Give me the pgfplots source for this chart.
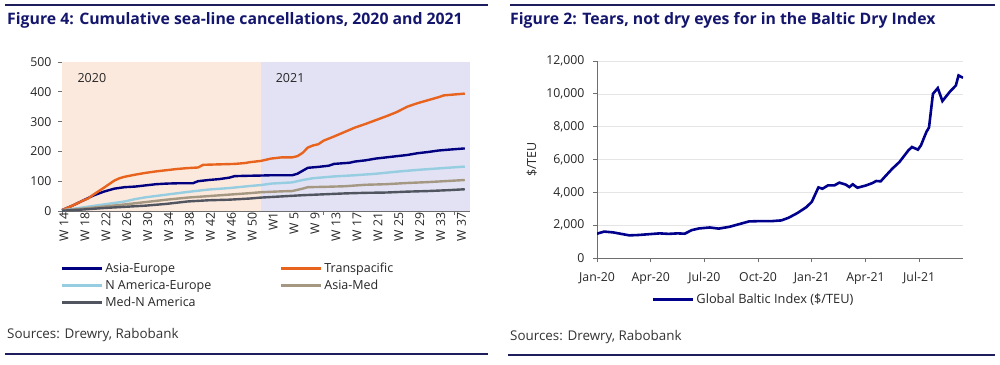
\documentclass[border=0pt]{standalone}
\usepackage{pgfplots}
\pgfplotsset{compat=1.18}
\usepackage{fontspec}
\setmainfont{Open Sans}
\definecolor{titlenavy}{RGB}{20,22,110}
\definecolor{rulenavy}{RGB}{30,30,95}
\definecolor{cAE}{RGB}{0,0,128}
\definecolor{cTP}{RGB}{232,100,30}
\definecolor{cNAE}{RGB}{150,205,225}
\definecolor{cAM}{RGB}{165,152,130}
\definecolor{cMNA}{RGB}{80,85,95}
\definecolor{cBI}{RGB}{0,0,140}
\definecolor{peach}{RGB}{252,233,221}
\definecolor{lav}{RGB}{226,226,244}
\definecolor{axgray}{RGB}{110,110,110}
\begin{document}
\begin{tikzpicture}[x=1pt,y=1pt]
\useasboundingbox (0,0) rectangle (1000,-364);
% rules
\draw[rulenavy, line width=1.6pt] (5,-5) -- (488,-5);
\draw[rulenavy, line width=1.6pt] (510,-5) -- (995,-5);
\draw[rulenavy, line width=1.6pt] (5,-354) -- (488,-354);
\draw[rulenavy, line width=1.6pt] (508,-355) -- (995,-355);
% titles
\node[anchor=west, text=titlenavy, font=\fontsize{15.8}{18}\selectfont\bfseries, inner sep=0pt] at (7,-20) {Figure 4: Cumulative sea-line cancellations, 2020 and 2021};
\node[anchor=west, text=titlenavy, font=\fontsize{15.8}{18}\selectfont\bfseries, inner sep=0pt] at (510,-20) {Figure 2: Tears, not dry eyes for in the Baltic Dry Index};
\node[anchor=west, text=black!80, font=\fontsize{13.4}{15}\selectfont, inner sep=0pt] at (7,-335) {Sources: Drewry, Rabobank};
\node[anchor=west, text=black!80, font=\fontsize{13.4}{15}\selectfont, inner sep=0pt] at (510,-337) {Sources: Drewry, Rabobank};

% LEFT CHART
\begin{axis}[
  at={(62pt,-211pt)}, anchor=south west,
  scale only axis, width=408pt, height=149pt,
  xmin=0, xmax=78, ymin=0, ymax=500,
  axis x line*=bottom, axis y line*=left,
  axis line style={-, draw=axgray, line width=0.8pt},
  tick align=outside, major tick length=4pt,
  tick style={draw=axgray, line width=0.8pt},
  ytick={0,100,...,500},
  yticklabel style={xshift=-3pt},
  xtick={0,25,50,75}, xticklabels={{},{},{},{}},
  extra x ticks={0,4,...,76},
  extra x tick labels={W 14,W 18,W 22,W 26,W 30,W 34,W 38,W 42,W 46,W 50,W1,W 5,W 9,W 13,W 17,W 21,W 25,W 29,W 33,W 37},
  extra x tick style={major tick length=0pt, tick label style={rotate=90, anchor=east, xshift=2pt, yshift=-2pt}},
  ymajorgrids, grid style={black!9, line width=0.6pt},
  ticklabel style={font=\fontsize{12.3}{14}\selectfont, text=black!85},
  /pgf/number format/assume math mode=true,
  legend columns=2,
  legend cell align=left,
  legend style={at={(axis description cs:-0.012,-0.32)}, anchor=north west, draw=none, fill=none,
    font=\fontsize{12.5}{14}\selectfont, text=black!85, row sep=2pt,
    /tikz/every even column/.append style={column sep=66pt}},
  legend image code/.code={\draw[#1, line width=3pt] (0pt,0pt) -- (40pt,0pt);},
  clip=false,
]
\fill[peach] (axis cs:0,0) rectangle (axis cs:38,500);
\fill[lav] (axis cs:38,0) rectangle (axis cs:78,500);
\addplot[cAE, line width=2.4pt] coordinates {(0,3)(2,18)(4,35)(6,52)(8,65)(10,75)(12,80)(14,82)(16,86)(18,90)(20,92)(22,93)(24,93)(25,93)(26,100)(28,104)(30,107)(32,112)(33,117)(35,118)(38,119)(40,120)(44,120)(45,125)(46,135)(47,145)(49,148)(51,152)(52,158)(55,162)(56,166)(58,170)(60,176)(62,180)(64,184)(66,188)(68,194)(70,198)(72,203)(74,206)(77,210)};
\addlegendentry{Asia-Europe}
\addplot[cTP, line width=2.4pt] coordinates {(0,3)(2,18)(4,35)(5,42)(6,55)(8,78)(10,102)(11,110)(12,115)(14,122)(16,128)(18,133)(20,137)(22,141)(24,144)(26,146)(27,155)(29,156)(31,157)(33,158)(35,161)(36,164)(38,168)(40,176)(42,180)(44,180)(45,184)(46,195)(47,213)(48,220)(49,224)(50,236)(52,250)(54,265)(56,280)(58,292)(60,305)(62,318)(64,332)(66,350)(68,362)(70,372)(72,382)(73,388)(75,391)(77,394)};
\addlegendentry{Transpacific}
\addplot[cNAE, line width=2.4pt] coordinates {(0,2)(4,12)(8,22)(12,32)(14,40)(16,46)(20,55)(24,64)(28,72)(32,77)(36,84)(38,87)(40,92)(44,96)(46,104)(48,110)(52,116)(56,120)(60,125)(64,132)(68,138)(72,143)(77,149)};
\addlegendentry{N America-Europe}
\addplot[cAM, line width=2.4pt] coordinates {(0,2)(4,8)(8,15)(12,22)(16,30)(20,38)(24,45)(28,50)(32,55)(36,60)(38,63)(42,66)(44,67)(46,75)(47,80)(50,81)(54,83)(58,88)(62,90)(66,94)(70,97)(74,101)(77,104)};
\addlegendentry{Asia-Med}
\addplot[cMNA, line width=2.4pt] coordinates {(0,1)(4,5)(8,10)(12,14)(16,18)(20,24)(24,32)(28,36)(32,38)(36,42)(38,45)(42,49)(46,53)(50,56)(54,59)(58,61)(62,62)(66,65)(70,67)(74,70)(77,73)};
\addlegendentry{Med-N America}
\node[anchor=west, font=\fontsize{12.5}{14}\selectfont, text=black!85] at (axis cs:2.3,446) {2020};
\node[anchor=west, font=\fontsize{12.5}{14}\selectfont, text=black!85] at (axis cs:40.2,446) {2021};
\end{axis}

% RIGHT CHART
\begin{axis}[
  at={(597pt,-258pt)}, anchor=south west,
  scale only axis, width=366pt, height=197pt,
  xmin=0, xmax=20.45, ymin=0, ymax=12000,
  axis x line*=bottom, axis y line*=left,
  axis line style={-, draw=axgray, line width=0.8pt},
  tick align=outside, major tick length=4pt,
  tick style={draw=axgray, line width=0.8pt},
  ytick={0,2000,...,12000},
  yticklabel style={xshift=-5pt},
  xtick={0,3,...,18},
  xticklabels={Jan-20,Apr-20,Jul-20,Oct-20,Jan-21,Apr-21,Jul-21},
  xticklabel style={yshift=-7pt},
  ymajorgrids, grid style={black!10, line width=0.6pt},
  ticklabel style={font=\fontsize{12.3}{14}\selectfont, text=black!85},
  /pgf/number format/assume math mode=true,
  /pgf/number format/1000 sep={,},
  scaled y ticks=false,
  ylabel={\$/TEU},
  ylabel style={font=\fontsize{12.5}{14}\selectfont, text=black!85, at={(axis description cs:-0.178,0.5)}, anchor=center},
  legend style={at={(axis description cs:0.14,-0.16)}, anchor=north west, draw=none, fill=none,
    font=\fontsize{12.8}{14}\selectfont, text=black!85},
  legend image code/.code={\draw[#1, line width=3pt] (0pt,0pt) -- (40pt,0pt);},
]
\addplot[cBI, line width=2.6pt] coordinates {(0,1480)(0.4,1610)(0.9,1560)(1.4,1460)(1.8,1380)(2.3,1400)(2.9,1450)(3.5,1500)(4.0,1470)(4.5,1500)(4.9,1480)(5.3,1700)(5.7,1800)(6.3,1860)(6.8,1790)(7.4,1900)(7.9,2050)(8.5,2230)(9.2,2250)(9.8,2250)(10.3,2290)(10.7,2450)(11.2,2740)(11.7,3100)(12.0,3420)(12.37,4300)(12.6,4220)(12.9,4420)(13.26,4420)(13.54,4590)(13.9,4470)(14.1,4320)(14.29,4490)(14.55,4280)(15.03,4420)(15.4,4570)(15.6,4690)(15.85,4670)(16.15,5030)(16.5,5440)(16.9,5850)(17.4,6560)(17.6,6760)(17.93,6600)(18.1,6860)(18.4,7670)(18.55,7950)(18.77,10000)(19.04,10350)(19.3,9560)(19.7,10110)(20.05,10510)(20.2,11120)(20.45,10980)};
\addlegendentry{Global Baltic Index (\$/TEU)}
\end{axis}
\end{tikzpicture}
\end{document}
